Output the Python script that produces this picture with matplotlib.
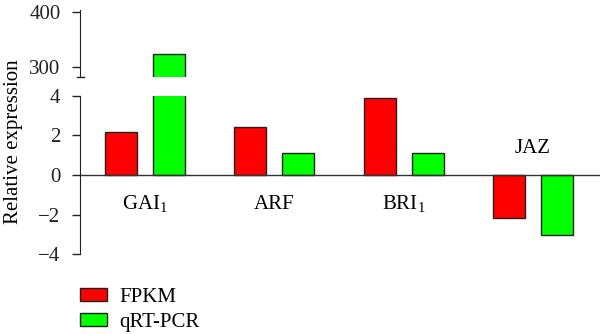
import numpy as np
import matplotlib.pyplot as plt
from matplotlib.lines import Line2D

plt.rcParams['font.family'] = 'Liberation Serif'
plt.rcParams['mathtext.fontset'] = 'custom'
plt.rcParams['mathtext.rm'] = 'Liberation Serif'

# data
genes = [r'GAI$_\mathrm{1}$', 'ARF', r'BRI$_\mathrm{1}$', 'JAZ']
fpkm = [2.18, 2.45, 3.88, -2.19]
qpcr = [324, 1.13, 1.13, -3.05]
series = ['FPKM', 'qRT-PCR']
colors = ['#ff0000', '#00ff00']

x = np.arange(len(genes))
w = 0.2475
off = 0.186

fig = plt.figure(figsize=(6, 3.34), dpi=100)
ax_top = fig.add_axes([0.1333, 0.7695, 0.8667, 0.2005])
ax = fig.add_axes([0.1333, 0.2395, 0.8667, 0.4731])

for a in (ax, ax_top):
    a.bar(x - off, fpkm, w, color=colors[0], edgecolor='#222222', linewidth=1, label=series[0])
    a.bar(x + off, qpcr, w, color=colors[1], edgecolor='#222222', linewidth=1, label=series[1])
    a.set_xlim(-0.503, 3.519)
    for s in ('top', 'right', 'bottom'):
        a.spines[s].set_visible(False)
    a.spines['left'].set_color('#222222')
    a.set_xticks([])
    a.tick_params(axis='y', direction='out', length=6, width=1, labelsize=15, pad=8,
                  colors='#222222')

ax.set_ylim(-4, 4)
ax.set_yticks([-4, -2, 0, 2, 4])
ax.set_yticklabels(['\u22124', '\u22122', '0', '2', '4'])
ax.axhline(0, color='#333333', linewidth=1)

ax_top.set_ylim(281.8, 403.6)
ax_top.set_yticks([300, 400])

# axis break mark
ax_top.add_line(Line2D([-0.006, 0.008], [0, 0], transform=ax_top.transAxes,
                       color='#222222', linewidth=1, clip_on=False))

# gene labels
for xi, g, v in zip(x, genes, fpkm):
    yl = -1.5 if v > 0 else 1.34
    ax.text(xi, yl, g, ha='center', va='center', fontsize=15)

fig.text(0.022, 0.577, 'Relative expression', rotation=90, ha='center', va='center', fontsize=15)

h, l = ax.get_legend_handles_labels()
fig.legend(h, l, loc='upper left', bbox_to_anchor=(0.133, 0.138), frameon=False,
           fontsize=15, handlelength=1.3, handleheight=0.58, handletextpad=0.6,
           labelspacing=0.27, borderpad=0, borderaxespad=0)

fig.savefig('out.png', dpi=100)
